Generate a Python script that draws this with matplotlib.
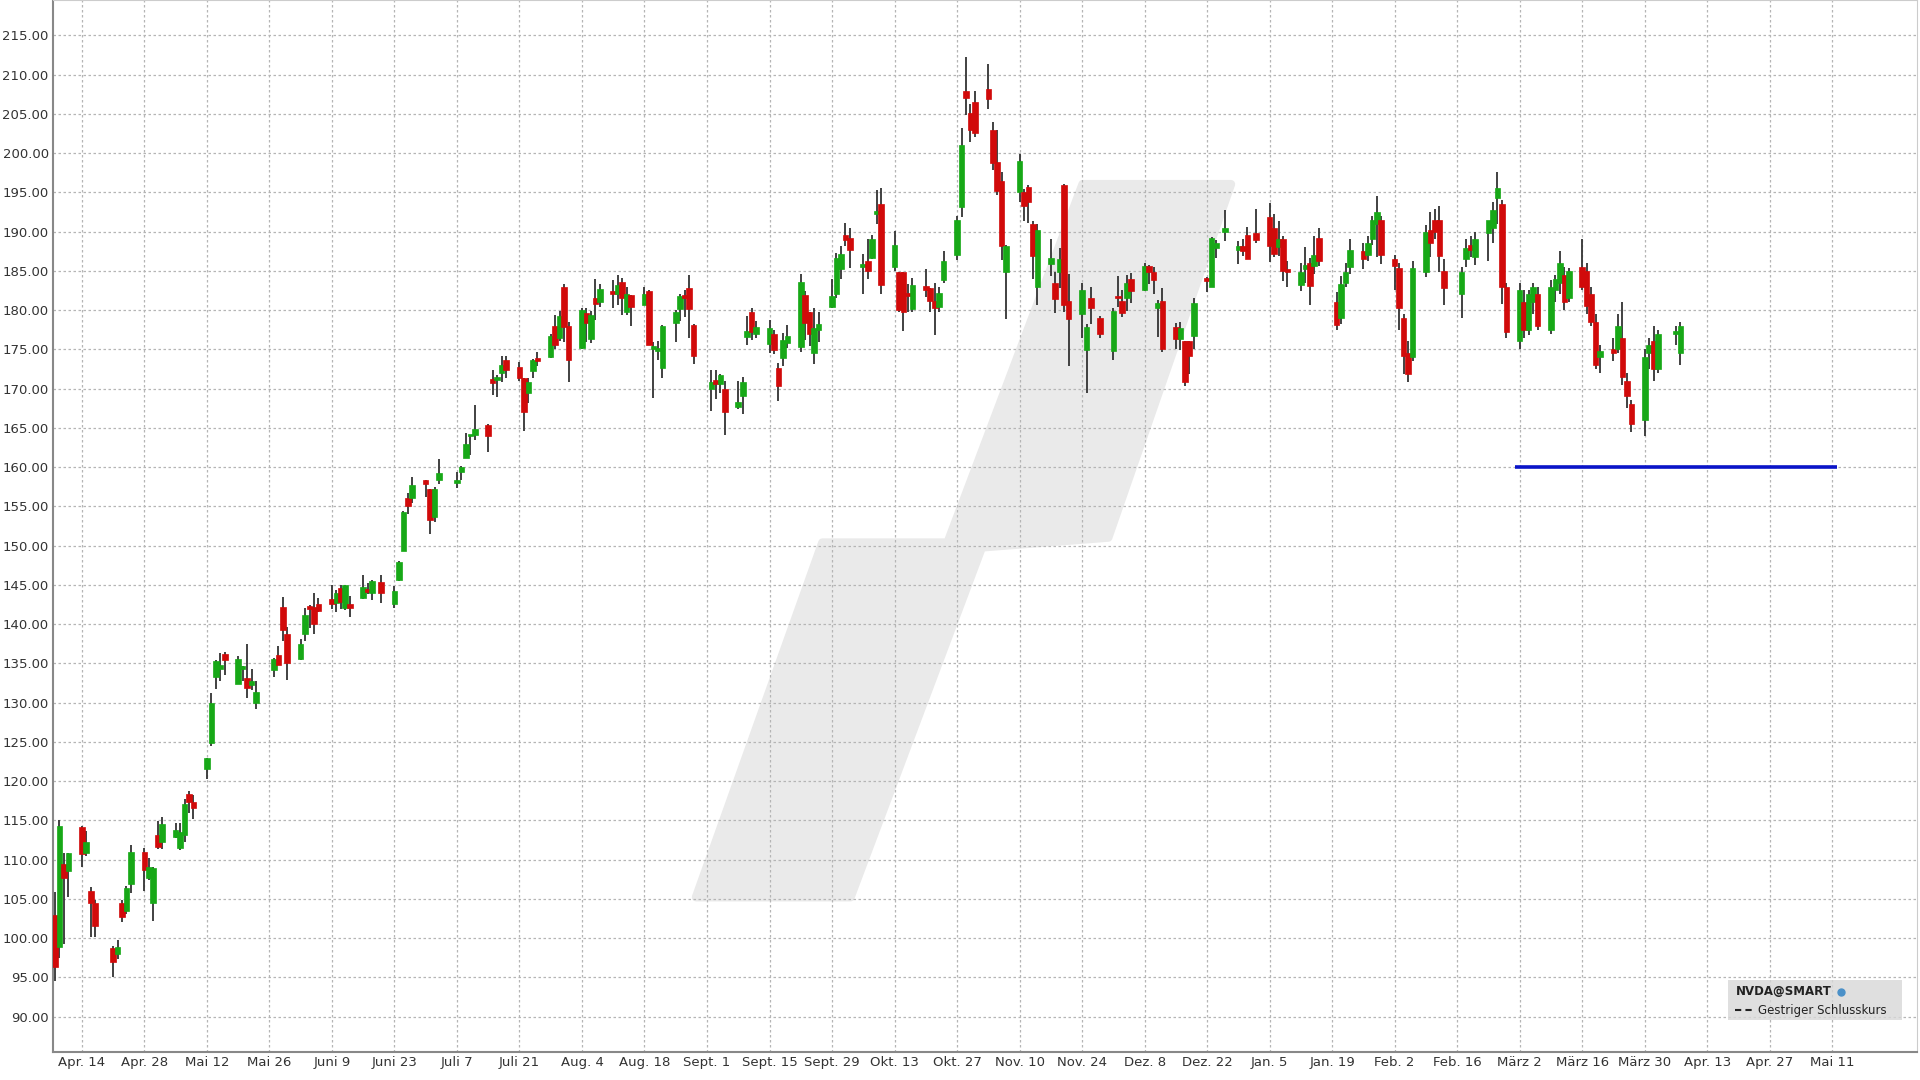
import matplotlib
matplotlib.use("Agg")
import matplotlib.pyplot as plt
import matplotlib.dates as mdates
from matplotlib.patches import Polygon, Rectangle
import pandas as pd

# daily candles (open, high, low, close) per month, NVDA
apr25 = [(103.0, 105.9, 94.5, 96.3), (98.9, 115.1, 97.5, 114.3), (109.4, 110.9, 99.2, 107.6),
         (108.5, 110.9, 105.2, 110.9), (114.1, 114.3, 109.1, 110.7), (110.9, 113.6, 110.5, 112.2),
         (106.0, 106.5, 100.1, 104.5), (104.5, 104.8, 100.1, 101.5), (98.8, 99.0, 95.0, 96.9),
         (98.0, 99.8, 97.3, 98.9), (104.5, 104.8, 102.0, 102.7), (103.5, 106.6, 103.1, 106.4),
         (106.9, 111.9, 105.7, 111.0), (111.0, 111.5, 106.0, 108.7), (107.7, 110.2, 107.4, 109.0),
         (104.5, 109.0, 102.2, 108.9)]
may25 = [(113.1, 114.9, 111.3, 111.6), (112.2, 115.4, 111.4, 114.5), (112.9, 114.7, 112.7, 113.8),
         (111.5, 114.7, 111.2, 113.5), (113.1, 117.7, 112.3, 117.1), (118.3, 118.7, 115.9, 117.4),
         (117.4, 118.2, 115.2, 116.6), (121.6, 123.0, 120.3, 123.0), (124.9, 131.2, 124.5, 129.9),
         (133.2, 135.4, 131.7, 135.3), (134.3, 136.3, 132.7, 134.8), (136.2, 136.4, 133.5, 135.4),
         (132.4, 135.9, 132.4, 135.6), (134.3, 134.6, 132.8, 134.4), (133.1, 137.4, 130.6, 131.8),
         (132.2, 134.3, 131.6, 132.8), (130.0, 132.7, 129.2, 131.3), (134.1, 135.7, 133.3, 135.5),
         (136.0, 137.2, 134.8, 134.8), (142.2, 143.5, 137.9, 139.2), (138.7, 139.6, 132.9, 135.1)]
jun25 = [(135.5, 138.1, 135.4, 137.4), (138.8, 142.0, 137.9, 141.2), (142.2, 142.4, 139.5, 141.9),
         (142.2, 144.0, 138.8, 140.0), (142.5, 143.3, 141.5, 141.7), (143.2, 145.0, 141.9, 142.6),
         (142.7, 144.3, 141.5, 143.9), (144.6, 145.0, 141.9, 142.8), (142.0, 145.0, 141.8, 145.0),
         (142.5, 143.6, 140.9, 142.0), (143.3, 146.2, 143.2, 144.7), (144.5, 145.2, 143.8, 144.1),
         (144.0, 145.6, 143.1, 145.5), (145.4, 146.2, 142.7, 143.9), (142.5, 144.8, 142.0, 144.2),
         (145.6, 148.0, 145.5, 147.9), (149.3, 154.4, 149.3, 154.3), (156.0, 156.7, 154.0, 155.0),
         (156.0, 158.7, 155.4, 157.7), (158.4, 158.4, 156.2, 157.9)]
jul25 = [(157.2, 157.2, 151.5, 153.3), (153.6, 157.4, 153.0, 157.2), (158.4, 161.0, 157.8, 159.3),
         (158.0, 159.4, 157.3, 158.2), (159.4, 160.2, 158.3, 160.0), (161.2, 164.4, 161.1, 162.9),
         (163.9, 164.0, 161.5, 164.1), (164.1, 167.9, 163.5, 164.9), (165.4, 165.5, 161.9, 164.0),
         (171.2, 172.4, 169.2, 170.7), (171.1, 171.7, 168.9, 171.4), (172.0, 174.2, 170.8, 173.0),
         (173.6, 174.2, 171.3, 172.4), (172.7, 173.4, 171.0, 171.4), (171.3, 171.4, 164.6, 167.0),
         (169.5, 171.3, 168.2, 170.8), (172.2, 173.8, 171.3, 173.7), (173.6, 174.7, 172.9, 173.5),
         (174.0, 177.0, 173.9, 176.7), (178.0, 179.4, 175.0, 175.5), (176.5, 179.9, 176.1, 179.3),
         (182.9, 183.3, 175.9, 177.9)]
aug25 = [(178.0, 178.5, 170.9, 173.7), (175.2, 180.3, 175.0, 180.0), (179.6, 180.3, 175.9, 178.3),
         (176.3, 179.9, 175.8, 179.4), (181.6, 183.9, 178.8, 180.8), (181.0, 183.3, 180.4, 182.7),
         (182.2, 183.8, 180.3, 182.1), (182.0, 184.5, 180.7, 183.2), (183.6, 184.1, 179.4, 181.6),
         (179.8, 183.0, 179.4, 182.0), (181.9, 181.9, 178.0, 180.4), (180.6, 182.9, 180.6, 182.0),
         (182.4, 182.5, 175.5, 175.6), (175.0, 175.9, 168.8, 175.4), (174.8, 176.1, 173.7, 175.0),
         (172.6, 178.1, 171.4, 178.0), (178.3, 180.0, 175.9, 179.8), (180.1, 182.0, 178.6, 181.8),
         (181.9, 182.5, 179.1, 181.6), (182.8, 184.5, 176.4, 180.2), (178.1, 178.2, 173.1, 174.2)]
sep25 = [(170.0, 172.4, 167.2, 170.8), (171.1, 172.4, 168.7, 170.6), (170.6, 171.9, 169.4, 171.7),
         (170.0, 171.0, 164.1, 167.0), (167.6, 171.0, 167.4, 168.3), (169.1, 171.5, 166.7, 170.8),
         (176.6, 179.3, 175.5, 177.3), (179.7, 180.3, 176.2, 177.2), (177.0, 178.6, 176.4, 177.8),
         (175.7, 178.8, 174.5, 177.7), (177.0, 177.5, 174.4, 174.9), (172.6, 173.2, 168.4, 170.3),
         (173.9, 177.1, 172.9, 176.2), (175.8, 178.1, 175.2, 176.7), (175.3, 184.6, 174.7, 183.6),
         (181.9, 182.4, 176.2, 178.4), (179.8, 179.8, 175.4, 176.9), (174.5, 180.3, 173.1, 177.7),
         (177.5, 179.8, 175.9, 178.2), (180.4, 184.0, 180.3, 181.8), (182.1, 187.3, 181.5, 186.6)]
oct25 = [(185.2, 188.1, 183.9, 187.2), (189.6, 191.1, 188.1, 188.9), (189.2, 190.4, 185.4, 187.6),
         (185.5, 187.2, 182.0, 185.6), (186.2, 189.1, 184.0, 185.0), (186.6, 189.6, 186.5, 189.1),
         (192.2, 195.3, 191.0, 192.6), (193.5, 195.6, 182.0, 183.2), (185.5, 190.1, 185.0, 188.3),
         (184.8, 184.8, 179.7, 180.0), (184.8, 184.9, 177.3, 179.8), (182.2, 183.3, 179.8, 181.8),
         (180.2, 184.1, 179.7, 183.2), (183.1, 185.2, 181.7, 182.6), (182.8, 182.8, 179.8, 181.2),
         (181.1, 183.4, 176.8, 180.3), (180.4, 183.0, 179.8, 182.2), (183.8, 187.5, 183.5, 186.3),
         (187.0, 192.0, 186.4, 191.5), (193.1, 203.2, 191.9, 201.0), (207.9, 212.2, 204.8, 207.0),
         (205.1, 206.2, 201.4, 202.9), (206.5, 207.9, 202.1, 202.5)]
nov25 = [(208.1, 211.3, 205.6, 206.9), (203.0, 203.9, 197.9, 198.7), (198.8, 202.9, 194.7, 195.2),
         (196.4, 197.6, 186.4, 188.1), (184.9, 188.3, 178.9, 188.1), (195.1, 199.9, 193.8, 199.0),
         (195.1, 195.4, 191.3, 193.2), (195.7, 195.9, 191.1, 193.8), (191.0, 191.4, 183.9, 186.9),
         (182.9, 191.0, 180.6, 190.2), (185.9, 189.0, 184.3, 186.6), (183.4, 184.8, 179.6, 181.4),
         (184.8, 187.9, 182.8, 186.5), (195.9, 196.0, 179.8, 180.6), (181.2, 184.6, 172.9, 178.9),
         (179.5, 183.5, 176.5, 182.5), (174.9, 178.2, 169.5, 177.8), (181.6, 182.9, 178.2, 180.3),
         (179.0, 179.3, 176.5, 177.0)]
dec25 = [(174.8, 180.3, 173.7, 179.9), (181.8, 184.3, 180.4, 181.5), (181.1, 182.5, 179.1, 179.6),
         (181.6, 184.5, 179.9, 183.4), (183.9, 184.7, 180.9, 182.4), (182.6, 186.0, 182.4, 185.6),
         (185.6, 185.7, 183.3, 184.9), (184.9, 185.5, 182.0, 183.8), (180.3, 181.3, 176.6, 180.9),
         (181.1, 182.8, 174.6, 175.0), (177.9, 178.4, 175.0, 176.3), (176.3, 178.5, 174.9, 177.7),
         (176.1, 176.1, 170.3, 170.9), (176.0, 176.1, 171.8, 174.1), (176.7, 181.5, 175.0, 180.9),
         (183.9, 184.2, 182.3, 183.7), (182.9, 189.3, 182.9, 189.2), (187.9, 188.9, 186.6, 188.6),
         (189.9, 192.7, 188.8, 190.5), (187.7, 188.8, 185.9, 188.2), (188.2, 189.0, 186.9, 187.5),
         (189.6, 190.6, 186.5, 186.5)]
jan26 = [(189.8, 192.9, 188.5, 188.9), (191.8, 193.6, 186.1, 188.1), (190.5, 192.2, 186.8, 187.2),
         (188.0, 191.4, 186.9, 189.1), (189.1, 189.5, 183.7, 185.0), (185.1, 186.3, 182.9, 184.9),
         (183.2, 186.0, 182.4, 184.9), (185.2, 188.0, 183.4, 185.8), (186.0, 186.6, 180.7, 183.1),
         (185.6, 189.5, 184.6, 187.0), (189.2, 190.5, 185.6, 186.2), (181.0, 182.3, 177.4, 178.1),
         (179.0, 184.4, 178.2, 183.3), (183.5, 186.0, 182.9, 184.8), (185.5, 189.0, 184.6, 187.7),
         (187.5, 188.5, 185.2, 186.5), (187.0, 189.5, 186.2, 188.5), (189.0, 192.0, 188.3, 191.5),
         (191.0, 194.5, 186.8, 192.5), (191.5, 192.0, 185.9, 187.0)]
feb26 = [(186.5, 187.0, 182.5, 185.6), (185.3, 186.0, 177.5, 180.3), (179.0, 179.5, 171.9, 174.2),
         (174.5, 176.0, 170.9, 171.9), (174.0, 186.2, 173.5, 185.4), (184.9, 190.9, 184.2, 190.0),
         (190.2, 192.5, 186.8, 188.5), (191.5, 192.9, 189.0, 190.0), (191.5, 193.2, 184.8, 186.9),
         (185.0, 186.5, 180.6, 182.8), (182.0, 185.5, 179.0, 184.9), (186.5, 189.0, 185.5, 187.9),
         (188.3, 189.5, 186.8, 187.6), (186.8, 189.9, 185.7, 189.0), (189.8, 191.0, 186.2, 191.5),
         (190.5, 193.8, 188.5, 192.7), (194.3, 197.6, 191.0, 195.6), (193.5, 194.0, 180.8, 183.0),
         (183.0, 183.5, 176.5, 177.2)]
mar26 = [(176.0, 183.5, 175.0, 182.5), (181.0, 182.5, 176.5, 177.5), (177.5, 182.5, 176.8, 182.0),
         (181.0, 183.5, 179.5, 183.0), (182.0, 183.0, 177.5, 178.0), (177.5, 183.8, 177.0, 183.0),
         (182.5, 184.5, 181.0, 184.0), (183.5, 187.5, 182.0, 186.0), (184.5, 185.5, 180.0, 181.0),
         (181.5, 185.3, 181.0, 185.0), (185.5, 189.0, 182.5, 183.0), (185.0, 186.0, 179.5, 180.5),
         (182.0, 183.0, 178.0, 178.5), (178.5, 179.5, 172.5, 173.0), (174.0, 175.5, 172.0, 174.8),
         (175.0, 176.5, 173.5, 174.5), (175.0, 179.5, 174.5, 178.0), (176.5, 181.0, 170.5, 171.5),
         (171.0, 172.0, 167.5, 169.0), (168.0, 168.5, 164.5, 165.5), (166.0, 175.0, 164.0, 174.0),
         (174.5, 176.5, 172.5, 175.5)]
apr26 = [(176.0, 178.0, 171.0, 172.5), (172.5, 177.5, 172.0, 177.0), (177.0, 178.0, 175.5, 177.3),
         (174.5, 178.5, 173.0, 178.0)]

support_level = 160.0
support_start, support_end = "2026-03-01", "2026-05-12"

tick_dates = ["2025-04-14", "2025-04-28", "2025-05-12", "2025-05-26", "2025-06-09", "2025-06-23",
              "2025-07-07", "2025-07-21", "2025-08-04", "2025-08-18", "2025-09-01", "2025-09-15",
              "2025-09-29", "2025-10-13", "2025-10-27", "2025-11-10", "2025-11-24", "2025-12-08",
              "2025-12-22", "2026-01-05", "2026-01-19", "2026-02-02", "2026-02-16", "2026-03-02",
              "2026-03-16", "2026-03-30", "2026-04-13", "2026-04-27", "2026-05-11"]
tick_labels = ["Apr. 14", "Apr. 28", "Mai 12", "Mai 26", "Juni 9", "Juni 23", "Juli 7", "Juli 21",
               "Aug. 4", "Aug. 18", "Sept. 1", "Sept. 15", "Sept. 29", "Okt. 13", "Okt. 27",
               "Nov. 10", "Nov. 24", "Dez. 8", "Dez. 22", "Jan. 5", "Jan. 19", "Feb. 2", "Feb. 16",
               "März 2", "März 16", "März 30", "Apr. 13", "Apr. 27", "Mai 11"]

holidays = ["2025-04-18", "2025-05-26", "2025-06-19", "2025-07-04", "2025-09-01", "2025-11-27",
            "2025-12-25", "2026-01-01", "2026-01-19", "2026-02-16", "2026-04-03"]

candles = apr25 + may25 + jun25 + jul25 + aug25 + sep25 + oct25 + nov25 + dec25 + jan26 + feb26 + mar26 + apr26
days = pd.bdate_range("2025-04-08", "2026-04-07")
days = days[~days.isin(pd.to_datetime(holidays))][:len(candles)]
xs = mdates.date2num(days)

GREEN = "#17a817"
RED = "#d10a0a"

fig = plt.figure(figsize=(19.2, 10.8), dpi=100)
ax = fig.add_axes([0.0275, 0.026, 0.971, 0.974])

# watermark in axes fraction
W, H = 1519.0, 857.0
pts = [(882, 150), (1003, 150), (903, 438), (800, 446), (693, 731), (567, 731), (670, 442), (772, 442)]
poly = Polygon([((px - 43) / W, 1 - py / H) for px, py in pts], closed=True, transform=ax.transAxes,
               facecolor="#eaeaea", edgecolor="#eaeaea", lw=6, joinstyle="round", zorder=0.5)
ax.add_patch(poly)

bw = 1.25
for x, (o, h, l, c) in zip(xs, candles):
    col = GREEN if c >= o else RED
    ax.vlines(x, l, h, color="#333333", lw=1.3, zorder=2)
    bot, top = min(o, c), max(o, c)
    ax.add_patch(Rectangle((x - bw / 2, bot), bw, max(top - bot, 0.35), facecolor=col,
                           edgecolor=col, lw=0.5, zorder=3))

ax.hlines(support_level, mdates.datestr2num(support_start), mdates.datestr2num(support_end),
          color="#0a14c8", lw=2.6, zorder=4)

ax.set_xlim(mdates.datestr2num("2025-04-07") + 0.5, mdates.datestr2num("2026-05-30"))
ax.set_ylim(85.5, 219.5)
ax.set_yticks(range(90, 216, 5))
ax.set_yticklabels([f"{v:.2f}" for v in range(90, 216, 5)])
ax.set_xticks(mdates.datestr2num(tick_dates))
ax.set_xticklabels(tick_labels)
ax.tick_params(labelsize=9.5, length=0, colors="#333333", pad=3)
ax.grid(True, color="#b5b5b5", ls=(0, (2, 2)), lw=0.9, zorder=0)
ax.set_axisbelow(True)
for side in ["top", "right"]:
    ax.spines[side].set_color("#cccccc")
for side in ["left", "bottom"]:
    ax.spines[side].set_color("#888888")
    ax.spines[side].set_linewidth(1.5)

# legend box
lx0, ly0 = (1408 - 43) / W, 1 - 831 / H
ax.add_patch(Rectangle((lx0, ly0), 142 / W, 33 / H, transform=ax.transAxes,
                       facecolor="#d8d8d8", alpha=0.8, edgecolor="none", zorder=5))
ax.text(lx0 + 6 / W, ly0 + 23 / H, "NVDA@SMART", transform=ax.transAxes, fontsize=8.5,
        fontweight="bold", color="#222222", va="center", zorder=6)
ax.plot([lx0 + 92 / W], [ly0 + 23 / H], "o", transform=ax.transAxes, ms=5,
        color="#4a90c8", zorder=6)
ax.plot([lx0 + 6 / W, lx0 + 20 / W], [ly0 + 8 / H] * 2, transform=ax.transAxes, color="#222222",
        lw=1.5, ls=(0, (3, 2)), zorder=6)
ax.text(lx0 + 24 / W, ly0 + 8 / H, "Gestriger Schlusskurs", transform=ax.transAxes, fontsize=8.5,
        color="#222222", va="center", zorder=6)

fig.savefig("out.png", dpi=100, facecolor="white")
